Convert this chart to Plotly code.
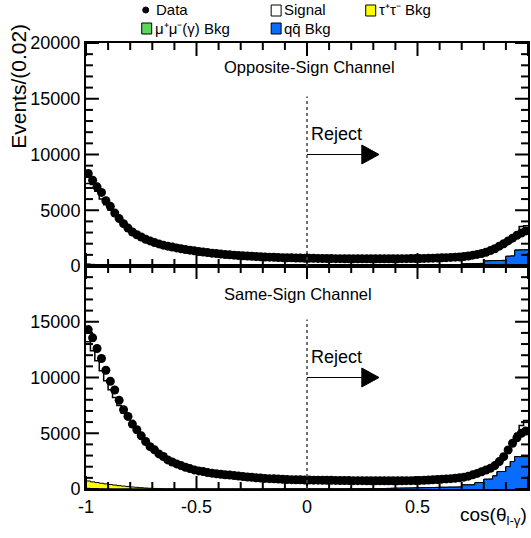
import numpy as np
import plotly.graph_objects as go
from plotly.subplots import make_subplots

# ---------------- data (100 bins of width 0.02 on [-1, 1]) ----------------
bin_edges = np.linspace(-1.0, 1.0, 101)
bin_centers = 0.5 * (bin_edges[:-1] + bin_edges[1:])

# Opposite-sign channel
os_data = [8300, 7700, 7100, 6600, 5850, 5350, 4750, 4250, 3800, 3400,
           3050, 2800, 2600, 2400, 2250, 2100, 1980, 1870, 1780, 1700,
           1620, 1550, 1480, 1420, 1360, 1300, 1250, 1200, 1150, 1110,
           1070, 1030, 1000, 970, 940, 910, 890, 870, 850, 830,
           810, 790, 780, 765, 750, 740, 730, 720, 710, 700,
           690, 685, 680, 675, 670, 665, 660, 658, 655, 652,
           650, 648, 646, 645, 645, 644, 645, 646, 648, 650,
           653, 656, 660, 664, 667, 670, 680, 690, 705, 720,
           735, 750, 770, 790, 810, 850, 900, 970, 1040, 1120,
           1230, 1380, 1550, 1780, 2000, 2250, 2500, 2750, 2950, 3150]
os_stack_top = [7400, 7300, 6700, 6000, 5500, 5000, 4600, 4150, 3750, 3350,
                3000, 2760, 2560, 2370, 2220, 2080, 1960, 1850, 1760, 1680,
                1600, 1530, 1465, 1405, 1345, 1290, 1240, 1190, 1140, 1100,
                1060, 1020, 990, 960, 930, 905, 885, 865, 845, 825,
                805, 785, 772, 758, 745, 735, 725, 715, 705, 695,
                685, 680, 675, 670, 665, 660, 656, 653, 650, 648,
                646, 644, 642, 641, 641, 640, 641, 642, 644, 646,
                649, 652, 656, 660, 664, 668, 676, 686, 700, 716,
                732, 748, 768, 790, 812, 850, 900, 965, 1040, 1120,
                1240, 1400, 1580, 1800, 2050, 2400, 2700, 3000, 3550, 3600]
os_qqbar = [0, 0, 0, 0, 0, 0, 0, 0, 0, 0,
            0, 0, 0, 0, 0, 0, 0, 0, 0, 0,
            0, 0, 0, 0, 0, 0, 0, 0, 0, 0,
            0, 0, 0, 0, 0, 0, 0, 0, 0, 0,
            5, 5, 5, 6, 6, 6, 7, 7, 8, 8,
            8, 9, 9, 10, 10, 11, 11, 12, 12, 13,
            14, 15, 16, 17, 18, 19, 20, 22, 24, 26,
            28, 30, 33, 36, 39, 42, 46, 50, 55, 58,
            60, 70, 80, 90, 100, 180, 200, 210, 220, 230,
            450, 470, 480, 490, 500, 870, 890, 1420, 1430, 1440]
os_mumu = [40, 30, 20, 10, 5] + [0] * 95
os_tautau = [150, 120, 100, 80, 60, 45, 30, 20, 10, 5] + [0] * 90

# Same-sign channel
ss_data = [14300, 13560, 12600, 11700, 10650, 9660, 8880, 7950, 7110, 6510,
           5820, 5310, 4770, 4260, 3800, 3510, 3150, 2910, 2610, 2420,
           2250, 2100, 1950, 1830, 1710, 1620, 1560, 1480, 1420, 1370,
           1320, 1280, 1250, 1200, 1160, 1120, 1080, 1050, 1010, 980,
           950, 930, 910, 890, 870, 850, 840, 830, 820, 810,
           800, 795, 790, 785, 780, 775, 770, 765, 760, 755,
           750, 748, 745, 742, 740, 738, 736, 735, 734, 733,
           735, 740, 745, 750, 760, 770, 785, 805, 830, 855,
           880, 905, 930, 960, 1000, 1060, 1150, 1270, 1400, 1550,
           1700, 1850, 2100, 2460, 2900, 3500, 4100, 4600, 5000, 5200]
ss_stack_top = [13200, 12400, 11500, 10600, 9700, 8900, 8200, 7500, 6800, 6250,
                5650, 5150, 4650, 4180, 3740, 3450, 3100, 2870, 2580, 2390,
                2220, 2070, 1925, 1805, 1690, 1600, 1540, 1460, 1400, 1350,
                1300, 1260, 1230, 1180, 1140, 1100, 1065, 1035, 995, 965,
                935, 915, 895, 875, 855, 838, 828, 818, 808, 798,
                788, 783, 778, 773, 768, 763, 758, 753, 748, 743,
                738, 736, 733, 730, 728, 726, 724, 723, 722, 721,
                723, 727, 732, 737, 746, 758, 772, 790, 812, 838,
                862, 885, 910, 940, 980, 1040, 1125, 1240, 1370, 1520,
                1670, 1820, 2060, 2420, 2880, 3600, 4300, 4950, 5700, 6150]
ss_qqbar = [0, 0, 0, 0, 0, 0, 0, 0, 0, 0,
            0, 0, 0, 0, 0, 0, 0, 0, 0, 0,
            0, 0, 0, 0, 0, 0, 0, 0, 0, 0,
            0, 0, 0, 0, 0, 0, 0, 0, 0, 0,
            5, 5, 5, 6, 6, 7, 7, 8, 8, 9,
            10, 10, 11, 12, 13, 14, 15, 16, 18, 20,
            22, 24, 26, 28, 30, 35, 40, 45, 50, 60,
            65, 70, 75, 80, 90, 100, 110, 120, 130, 140,
            150, 150, 160, 160, 170, 360, 360, 370, 570, 580,
            870, 880, 1170, 1560, 1570, 2000, 2460, 2900, 2900, 2900]
ss_mumu = [60, 40, 25, 15, 8, 4] + [0] * 94
ss_tautau = [660, 600, 550, 500, 450, 400, 350, 300, 260, 220,
             180, 150, 120, 90, 70, 50, 30, 20, 10, 5] + [0] * 80

y_tick_vals_top = [0, 5000, 10000, 15000, 20000]
y_tick_vals_bot = [0, 5000, 10000, 15000]
y_minor_vals = list(range(0, 20001, 1000))
x_tick_vals = [-1, -0.5, 0, 0.5, 1]
x_tick_text = ["-1", "-0.5", "0", "0.5", "1"]
x_minor_vals = [round(v, 1) for v in np.arange(-1, 1.001, 0.1)]
cut_value = 0.0

# ---------------- style ----------------
FONT = "Liberation Sans, Arial, Helvetica, sans-serif"
C_BLUE = "#0a6cff"
C_GREEN = "#5cd65c"
C_YELLOW = "#ffff00"

L, R, T, B = 86, 1, 43, 49
W, H = 531 - L - R, 538 - T - B
PANEL_H = H / 2.0
X_RANGE = (-1.0, 1.0)
Y_RANGE = (0.0, 20000.0)
MAJ, MIN = 13, 7

fig = make_subplots(rows=2, cols=1, shared_xaxes=True, vertical_spacing=0)


def step(vals):
    v = np.asarray(vals, dtype=float)
    return bin_edges, np.append(v, v[-1])


def add_channel(row, data, top, qq, mumu, tau):
    qq = np.asarray(qq, float)
    mumu = np.asarray(mumu, float)
    tau = np.asarray(tau, float)
    layers = [
        (np.asarray(top, float), "white", 1.5),
        (qq + mumu + tau, C_YELLOW, 1.0),
        (qq + mumu, C_GREEN, 1.0),
        (qq, C_BLUE, 1.0),
    ]
    for vals, col, lw in layers:
        x, y = step(vals)
        fig.add_trace(go.Scatter(x=x, y=y, mode="lines", line_shape="hv",
                                 line=dict(color="black", width=lw),
                                 fill="tozeroy", fillcolor=col,
                                 showlegend=False, hoverinfo="skip"),
                      row=row, col=1)
    fig.add_trace(go.Scatter(x=bin_centers, y=data, mode="markers",
                             marker=dict(color="black", size=9),
                             showlegend=False),
                  row=row, col=1)


add_channel(1, os_data, os_stack_top, os_qqbar, os_mumu, os_tautau)
add_channel(2, ss_data, ss_stack_top, ss_qqbar, ss_mumu, ss_tautau)

for r in (1, 2):
    fig.update_xaxes(range=list(X_RANGE), tickmode="array", tickvals=x_tick_vals,
                     ticktext=x_tick_text, ticks="",
                     showline=True, linecolor="black", linewidth=2,
                     mirror=True, showgrid=False, zeroline=False,
                     tickfont=dict(family=FONT, size=18, color="black"),
                     row=r, col=1)
    yv = y_tick_vals_top if r == 1 else y_tick_vals_bot
    fig.update_yaxes(range=list(Y_RANGE), tickmode="array", tickvals=yv,
                     ticktext=[str(v) for v in yv], ticks="",
                     showline=True, linecolor="black", linewidth=2,
                     mirror=True, showgrid=False, zeroline=False,
                     tickfont=dict(family=FONT, size=18, color="black"),
                     row=r, col=1)
fig.update_xaxes(showticklabels=False, row=1, col=1)
fig.update_xaxes(showticklabels=True, row=2, col=1)


def px(xp):
    return (xp - L) / W


def py(yp):
    return (538 - B - yp) / H


def xval_to_px(v):
    return L + (v - X_RANGE[0]) / (X_RANGE[1] - X_RANGE[0]) * W


shapes = []
annotations = []

# inside tick marks on all four sides of both panels
tick_line = dict(color="black", width=2)
for row in (1, 2):
    top_px = T + (row - 1) * PANEL_H
    bot_px = top_px + PANEL_H
    for v in x_minor_vals:
        ln = MAJ if any(abs(v - t) < 1e-9 for t in x_tick_vals) else MIN
        xp = px(xval_to_px(v))
        shapes.append(dict(type="line", xref="paper", yref="paper", layer="above",
                           x0=xp, x1=xp, y0=py(bot_px), y1=py(bot_px - ln), line=tick_line))
        shapes.append(dict(type="line", xref="paper", yref="paper", layer="above",
                           x0=xp, x1=xp, y0=py(top_px), y1=py(top_px + ln), line=tick_line))
    for v in y_minor_vals:
        ln = MAJ if v % 5000 == 0 else MIN
        yp = bot_px - (v - Y_RANGE[0]) / (Y_RANGE[1] - Y_RANGE[0]) * PANEL_H
        shapes.append(dict(type="line", xref="paper", yref="paper", layer="above",
                           x0=px(L), x1=px(L + ln), y0=py(yp), y1=py(yp), line=tick_line))
        shapes.append(dict(type="line", xref="paper", yref="paper", layer="above",
                           x0=px(L + W), x1=px(L + W - ln), y0=py(yp), y1=py(yp), line=tick_line))

for xr, yr, label, lx, ly in (("x", "y", "Opposite-Sign Channel", 0.506, 0.893),
                              ("x2", "y2", "Same-Sign Channel", 0.48, 0.874)):
    shapes.append(dict(type="line", xref=xr, yref=yr, x0=cut_value, x1=cut_value,
                       y0=0, y1=15200, line=dict(color="#444444", width=1.5, dash="dot")))
    shapes.append(dict(type="line", xref=xr, yref=yr, x0=cut_value, x1=0.25,
                       y0=10000, y1=10000, line=dict(color="black", width=1.2)))
    shapes.append(dict(type="path", xref=xr, yref=yr,
                       path="M 0.248 10850 L 0.326 10000 L 0.248 9150 Z",
                       fillcolor="black", line=dict(color="black", width=1)))
    annotations.append(dict(xref=xr, yref=yr, x=0.01, y=11800, text="Reject",
                            showarrow=False, xanchor="left", yanchor="middle",
                            font=dict(family=FONT, size=18, color="black")))
    annotations.append(dict(xref=xr + " domain", yref=yr + " domain", x=lx,
                            y=ly, text=label,
                            showarrow=False, xanchor="center", yanchor="middle",
                            font=dict(family=FONT, size=16.5, color="black")))

annotations.append(dict(xref="paper", yref="paper", x=px(18), y=py(22),
                        text="Events/(0.02)", textangle=-90, showarrow=False,
                        xanchor="center", yanchor="top",
                        font=dict(family=FONT, size=21, color="black")))
annotations.append(dict(xref="paper", yref="paper", x=px(531), y=py(516),
                        text="cos(θ<sub>l-γ</sub>)", showarrow=False,
                        xanchor="right", yanchor="middle",
                        font=dict(family=FONT, size=19, color="black")))

leg_font = dict(family=FONT, size=15, color="black")
shapes.append(dict(type="circle", xref="paper", yref="paper",
                   x0=px(143), x1=px(149), y0=py(13), y1=py(7),
                   fillcolor="black", line=dict(color="black", width=1)))
legend_items = [
    (154, 10, "Data", None),
    (283, 10, "Signal", "white"),
    (378, 10, "\u03c4\u207a\u03c4\u207b Bkg", C_YELLOW),
    (153, 28, "\u03bc\u207a\u03bc\u207b(\u03b3) Bkg", C_GREEN),
    (283, 28, "qq\u0304 Bkg", C_BLUE),
]
for xp, yp, txt, col in legend_items:
    if col is not None:
        shapes.append(dict(type="rect", xref="paper", yref="paper",
                           x0=px(xp - 11), x1=px(xp - 1), y0=py(yp + 6), y1=py(yp - 5),
                           fillcolor=col, line=dict(color="black", width=1)))
    annotations.append(dict(xref="paper", yref="paper", x=px(xp), y=py(yp),
                            text=txt, showarrow=False, xanchor="left",
                            yanchor="middle", font=leg_font))

fig.update_layout(width=531, height=538,
                  margin=dict(l=L, r=R, t=T, b=B),
                  paper_bgcolor="white", plot_bgcolor="white",
                  showlegend=False, shapes=shapes, annotations=annotations,
                  font=dict(family=FONT, color="black"))

fig.write_html("out.html")
